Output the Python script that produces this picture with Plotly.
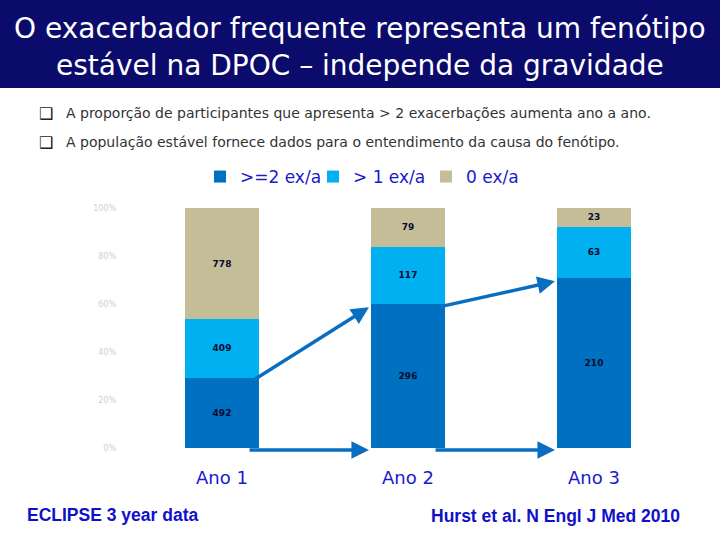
import plotly.graph_objects as go

# ---- data ----
years = ["Ano 1", "Ano 2", "Ano 3"]
series_names = [">=2 ex/a", "> 1 ex/a", "0 ex/a"]
freq2 = [492, 296, 210]      # >=2 exacerbations/year
freq1 = [409, 117, 63]       # 1 exacerbation/year
freq0 = [778, 79, 23]        # 0 exacerbations/year
colors = ["#0070C0", "#00B0F0", "#C4BD97"]

title_lines = ["O exacerbador frequente representa um fenótipo",
               "estável na DPOC – independe da gravidade"]
bullets = ["A proporção de participantes que apresenta > 2 exacerbações aumenta ano a ano.",
           "A população estável fornece dados para o entendimento da causa do fenótipo."]
footer_left = "ECLIPSE 3 year data"
footer_right = "Hurst et al. N Engl J Med 2010"

totals = [a + b + c for a, b, c in zip(freq2, freq1, freq0)]
pct = lambda arr: [100.0 * v / t for v, t in zip(arr, totals)]
p2, p1, p0 = pct(freq2), pct(freq1), pct(freq0)

W, H = 720, 540
L, R, T, B = 129, 33, 208, 90
PW, PH = W - L - R, H - T - B


def px(x, y):
    return (x - L) / PW, (H - B - y) / PH


fig = go.Figure()
for name, vals, cnt, col in zip(series_names, [p2, p1, p0], [freq2, freq1, freq0], colors):
    fig.add_trace(go.Bar(
        x=years, y=vals, name=name, marker=dict(color=col, line=dict(width=0)),
        text=[str(c) for c in cnt], textposition="inside", insidetextanchor="middle",
        textangle=0, constraintext="none",
        textfont=dict(family="DejaVu Sans", size=9, color="#0A0A30", weight="bold"),
        width=0.4,
    ))

annotations = []
# title
for i, line in enumerate(title_lines):
    xp, yp = px(W / 2, 28 + 37 * i)
    annotations.append(dict(x=xp, y=yp, xref="paper", yref="paper", text=line, showarrow=False,
                            font=dict(family="DejaVu Sans", size=28, color="white"),
                            xanchor="center", yanchor="middle"))
# bullets
for i, line in enumerate(bullets):
    xb, yb = px(46, 113 + 29 * i)
    annotations.append(dict(x=xb, y=yb, xref="paper", yref="paper", text="❑", showarrow=False,
                            font=dict(family="DejaVu Sans", size=16, color="#222222"),
                            xanchor="center", yanchor="middle"))
    xt, yt = px(64, 113 + 29 * i)
    annotations.append(dict(x=xt, y=yt, xref="paper", yref="paper", text=line, showarrow=False,
                            font=dict(family="DejaVu Sans", size=14, color="#333333"),
                            xanchor="left", yanchor="middle"))
# footers
xf, yf = px(25, 515)
annotations.append(dict(x=xf, y=yf, xref="paper", yref="paper", text="<b>%s</b>" % footer_left,
                        showarrow=False, font=dict(family="Liberation Sans", size=17.5, color="#1010C8"),
                        xanchor="left", yanchor="middle"))
xf, yf = px(682, 516)
annotations.append(dict(x=xf, y=yf, xref="paper", yref="paper", text="<b>%s</b>" % footer_right,
                        showarrow=False, font=dict(family="Liberation Sans", size=17.5, color="#1010C8"),
                        xanchor="right", yanchor="middle"))

# arrows between years (from data)
for i in range(len(years) - 1):
    annotations.append(dict(x=i + 1 - 0.21, y=p2[i + 1] - 1.5, xref="x", yref="y",
                            ax=i + 0.16, ay=p2[i] - 1.5, axref="x", ayref="y",
                            showarrow=True, arrowhead=2, arrowsize=1, arrowwidth=3.5,
                            arrowcolor="#0A6EC0", text=""))
    annotations.append(dict(x=i + 1 - 0.21, y=-0.8, xref="x", yref="y",
                            ax=i + 0.14, ay=-0.8, axref="x", ayref="y",
                            showarrow=True, arrowhead=2, arrowsize=1, arrowwidth=3.5,
                            arrowcolor="#0A6EC0", text=""))

shapes = []
x0, y0 = px(0, 0)
x1, y1 = px(W, 88)
shapes.append(dict(type="rect", xref="paper", yref="paper", x0=x0, x1=x1, y0=y1, y1=y0,
                   fillcolor="#0B0B6B", line=dict(width=0), layer="below"))

lx, ly = px(200, 177)
fig.update_layout(
    width=W, height=H, margin=dict(l=L, r=R, t=T, b=B, pad=0),
    paper_bgcolor="white", plot_bgcolor="white",
    barmode="stack", bargap=0.6,
    showlegend=True,
    legend=dict(orientation="h", x=lx, y=ly, xanchor="left", yanchor="middle",
                font=dict(family="DejaVu Sans", size=17, color="#1A1ACC"),
                bgcolor="rgba(0,0,0,0)", itemclick=False, traceorder="normal",
                entrywidth=68, tracegroupgap=0),
    xaxis=dict(showgrid=False, showline=False, zeroline=False, ticks="",
               tickfont=dict(family="DejaVu Sans", size=18, color="#1A1ACC"),
               ticklabelstandoff=15, range=[-0.5, 2.5]),
    yaxis=dict(range=[-0.8, 100], dtick=20, tick0=0, ticksuffix="%", showgrid=False,
               showline=False, zeroline=False,
               tickfont=dict(family="DejaVu Sans", size=8, color="#D0D0D0"),
               ticklabelstandoff=12),
    annotations=annotations, shapes=shapes,
)

fig.write_html("out.html", config={"displayModeBar": False},
               post_script="document.body.style.margin='0';document.body.style.padding='0';")
